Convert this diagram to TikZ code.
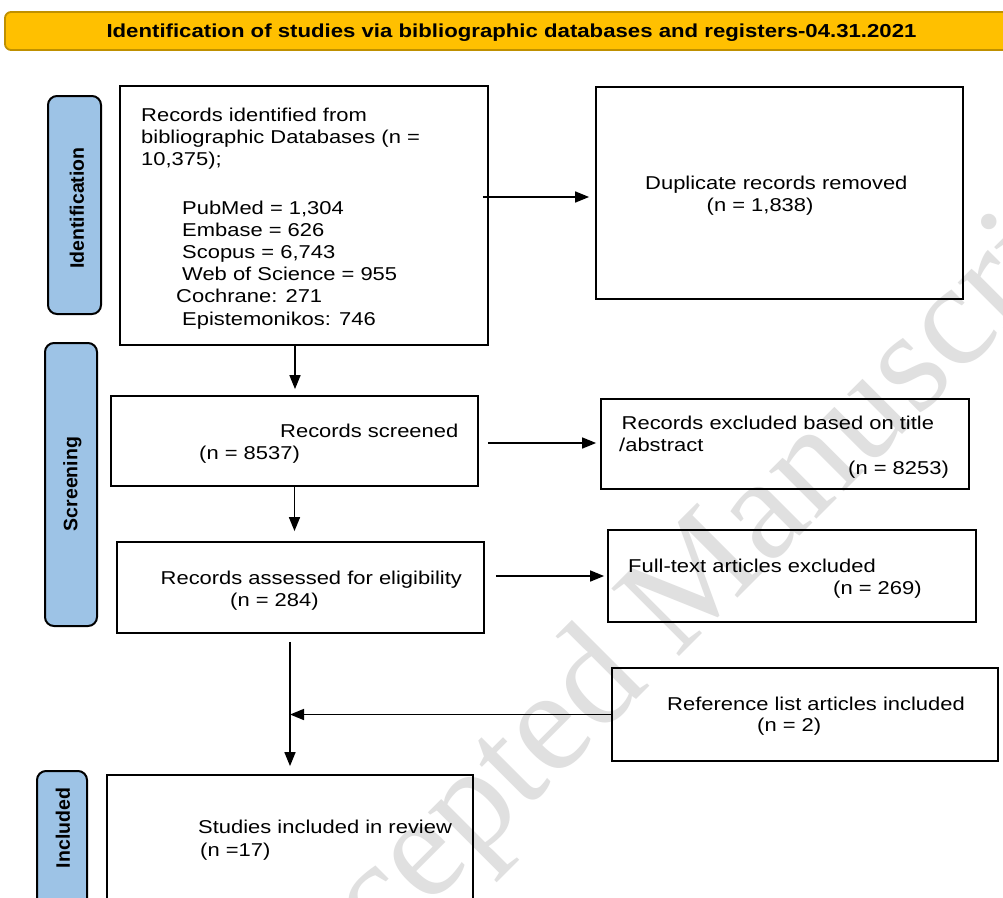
\documentclass[tikz,border=0pt]{standalone}
\usepackage{fontspec}
\setmainfont{Liberation Sans}[FakeStretch=1.18]
\newfontfamily\lblfont{Liberation Sans}
\newfontfamily\wmfont{Liberation Serif}
\usetikzlibrary{arrows.meta,calc}
\definecolor{gold}{RGB}{255,192,0}
\definecolor{golddark}{RGB}{191,144,0}
\definecolor{phase}{RGB}{157,195,230}
\definecolor{wmgray}{RGB}{224,224,224}
\begin{document}
\begin{tikzpicture}[x=1pt,y=-1pt,
  box/.style={draw=black, line width=1.8pt, inner sep=0pt},
  phasebox/.style={draw=black, line width=2pt, fill=phase, rounded corners=9pt},
  txt/.style={anchor=base west, inner sep=0pt, font=\fontsize{18.6}{20.5}\selectfont},
  lbl/.style={rotate=90, inner sep=0pt, font=\lblfont\bfseries\fontsize{19.5}{20}\selectfont},
  arr/.style={line width=1.6pt, -{Triangle[length=14pt,width=11pt]}},
  plain/.style={line width=1.6pt}]
\clip (0,0) rectangle (1003,897);
\fill[white] (0,0) rectangle (1003,897);
% watermark
\node[anchor=base west, rotate=45, inner sep=0pt, text=wmgray,
      font=\wmfont\fontsize{146}{146}\selectfont] (wm) at (261,1075) {Accepted Manuscript};
% title
\node[draw=golddark, line width=1.8pt, fill=gold, rounded corners=6pt, inner sep=0pt,
      minimum width=1005pt, minimum height=38pt] (title) at (507.5,31) {};
\node[anchor=base, inner sep=0pt, font=\bfseries\fontsize{18.8}{20}\selectfont] (titletxt) at (511.5,37.5)
  {Identification of studies via bibliographic databases and registers-04.31.2021};
% phase labels
\node[phasebox, minimum width=53pt, minimum height=218pt] (pid) at (74.5,205) {};
\node[phasebox, minimum width=52pt, minimum height=283pt] (psc) at (71,484.5) {};
\node[phasebox, minimum width=50pt, minimum height=140pt] (pin) at (62,841) {};
\node[lbl] (lid) at (77,208) {Identification};
\node[lbl] (lsc) at (72.5,484) {Screening};
\node[lbl] (lin) at (63,828) {Included};
% boxes
\node[box, minimum width=368pt, minimum height=259pt] (b1) at (304,215.5) {};
\node[box, minimum width=367pt, minimum height=212pt] (dup) at (779.5,193) {};
\node[box, minimum width=367pt, minimum height=90pt] (b2) at (294.5,441) {};
\node[box, minimum width=368pt, minimum height=90pt] (excl) at (785,444) {};
\node[box, minimum width=367pt, minimum height=91pt] (b3) at (300.5,587.5) {};
\node[box, minimum width=368pt, minimum height=92pt] (full) at (792,576) {};
\node[box, minimum width=386pt, minimum height=93pt] (ref) at (805,714.5) {};
\node[box, minimum width=366pt, minimum height=140pt] (fin) at (290,845) {};
% texts
\node[txt] (t1a) at (141,121.5) {Records identified from};
\node[txt] (t1b) at (141,143.2) {bibliographic Databases (n =};
\node[txt] (t1c) at (141,165) {10,375);};
\node[txt] (t1d) at (182,214) {PubMed = 1,304};
\node[txt] (t1e) at (182,236.2) {Embase = 626};
\node[txt] (t1f) at (182,258.4) {Scopus = 6,743};
\node[txt] (t1g) at (182,280.6) {Web of Science = 955};
\node[txt] (t1h) at (176,302.8) {Cochrane: 271};
\node[txt] (t1i) at (182,325) {Epistemonikos: 746};
\node[txt] (tda) at (645,189.5) {Duplicate records removed};
\node[txt] (tdb) at (706.5,211.5) {(n = 1,838)};
\node[txt] (t2a) at (280,437) {Records screened};
\node[txt] (t2b) at (199,459) {(n = 8537)};
\node[txt] (tea) at (621.5,429) {Records excluded based on title};
\node[txt] (teb) at (619,451) {/abstract};
\node[txt] (tec) at (848,474) {(n = 8253)};
\node[txt] (t3a) at (160.5,584) {Records assessed for eligibility};
\node[txt] (t3b) at (230,606.5) {(n = 284)};
\node[txt] (tfa) at (628,572) {Full-text articles excluded};
\node[txt] (tfb) at (833,594) {(n = 269)};
\node[txt] (tra) at (667,710) {Reference list articles included};
\node[txt] (trb) at (757,731.5) {(n = 2)};
\node[txt] (tsa) at (198,833) {Studies included in review};
\node[txt] (tsb) at (200,856.5) {(n =17)};
% connectors
\draw[arr, shorten >=6pt] ($(b2.north |- b1.south)+(0.5,0)$) -- ($(b2.north)+(0.5,0)$);
\draw[arr, shorten >=10pt] (b2.south) -- (b2.south |- b3.north);
\draw[arr, shorten <=8pt, shorten >=8pt] (fin.north |- b3.south) -- (fin.north);
\draw[arr] (ref.west) -- (fin.north |- ref.west);
\draw[arr, shorten >=6pt] ($(b1.east |- dup.west)+(-6,4)$) -- ($(dup.west)+(0,4)$);
\draw[arr, shorten >=4pt] ($(b2.east |- excl.west)+(9,-1)$) -- ($(excl.west)+(0,-1)$);
\draw[arr, shorten >=3pt] ($(b3.east |- full.west)+(11,0)$) -- (full.west);
\end{tikzpicture}
\end{document}
